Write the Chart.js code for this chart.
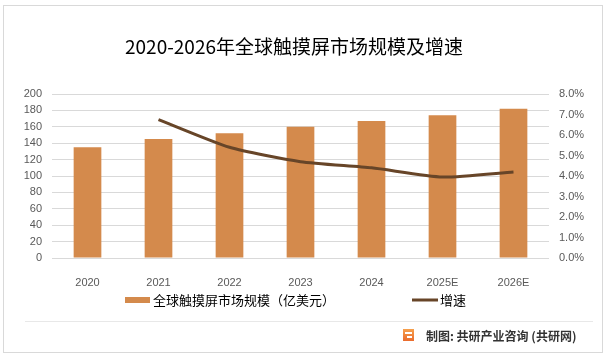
<!DOCTYPE html>
<html>
<head>
<meta charset="utf-8">
<script src="https://cdn.jsdelivr.net/npm/chart.js@4.4.0/dist/chart.umd.min.js"></script>
<style>
  body { margin: 0; background: #fff; }
  #wrap { width: 608px; height: 358px; }
</style>
</head>
<body>
<div id="wrap"><canvas id="myChart" width="608" height="358"></canvas></div>
<script>
const categories = ["2020", "2021", "2022", "2023", "2024", "2025E", "2026E"];
const marketSize = [135, 145, 152, 160, 167, 174, 182];
const growthRate = [null, 6.75, 5.4, 4.7, 4.4, 3.95, 4.2];
const leftTicks = [0, 20, 40, 60, 80, 100, 120, 140, 160, 180, 200];
const rightTicks = [0, 1, 2, 3, 4, 5, 6, 7, 8];

const titleText = "2020-2026年全球触摸屏市场规模及增速";
const sizeLabel = "全球触摸屏市场规模（亿美元）";
const rateLabel = "增速";
const footerText = "制图: 共研产业咨询 (共研网)";

const barColor = "#D48A4C";
const lineColor = "#674528";
const tickColor = "#595959";
const gridColor = "#D9D9D9";
const tickFont = { family: "'Liberation Sans', Arial, sans-serif", size: 11 };

// frame, title, legend and footer
const decorations = {
  id: "decorations",
  beforeDraw(chart) {
    const ctx = chart.ctx;
    ctx.save();
    ctx.fillStyle = "#fff";
    ctx.fillRect(0, 0, chart.width, chart.height);
    ctx.restore();
  },
  afterDraw(chart) {
    const ctx = chart.ctx;
    ctx.save();
    ctx.strokeStyle = "#D9D9D9";
    ctx.lineWidth = 1;
    ctx.strokeRect(3.5, 5.5, 599, 347);

    ctx.strokeStyle = "#E8E8E8";
    ctx.beginPath();
    ctx.moveTo(25, 321.5);
    ctx.lineTo(593, 321.5);
    ctx.stroke();

    ctx.fillStyle = "#000";
    ctx.font = "19px 'Noto Sans CJK SC', sans-serif";
    ctx.textAlign = "center";
    ctx.textBaseline = "middle";
    ctx.fillText(titleText, 294, 47);

    // legend
    ctx.font = "13px 'Noto Sans CJK SC', sans-serif";
    ctx.textAlign = "left";
    ctx.fillStyle = barColor;
    ctx.fillRect(125, 297, 25, 6);
    ctx.fillStyle = "#000";
    ctx.fillText(sizeLabel, 153, 300);
    ctx.strokeStyle = lineColor;
    ctx.lineWidth = 3;
    ctx.beginPath();
    ctx.moveTo(412, 300);
    ctx.lineTo(438, 300);
    ctx.stroke();
    ctx.fillText(rateLabel, 440, 300);

    // footer logo + text
    const g = ctx.createLinearGradient(403, 329, 403, 342);
    g.addColorStop(0, "#F6A04D");
    g.addColorStop(1, "#E9672B");
    ctx.fillStyle = g;
    ctx.fillRect(403, 329, 11, 12);
    ctx.fillStyle = "#fff";
    ctx.fillRect(405, 332, 7, 2);
    ctx.fillRect(407, 336, 5, 2);
    ctx.fillStyle = "#333";
    ctx.font = "bold 12px 'Noto Sans CJK SC', sans-serif";
    ctx.fillText(footerText, 426, 336);
    ctx.restore();
  }
};

const ctx = document.getElementById("myChart").getContext("2d");
new Chart(ctx, {
  data: {
    labels: categories,
    datasets: [
      {
        type: "line",
        label: rateLabel,
        data: growthRate,
        yAxisID: "y1",
        borderColor: lineColor,
        borderWidth: 3,
        pointRadius: 0,
        tension: 0.2,
        fill: false,
        order: 0
      },
      {
        type: "bar",
        label: sizeLabel,
        data: marketSize,
        yAxisID: "y",
        backgroundColor: barColor,
        categoryPercentage: 1,
        barPercentage: 0.39,
        order: 1
      }
    ]
  },
  options: {
    responsive: false,
    animation: false,
    layout: { padding: { top: 94, left: 0, right: 0, bottom: 0 } },
    plugins: {
      legend: { display: false },
      title: { display: false },
      tooltip: { enabled: false }
    },
    scales: {
      x: {
        grid: { display: false },
        border: { display: false },
        ticks: { color: tickColor, font: tickFont, padding: 10, maxRotation: 0 },
        afterFit(scale) { scale.height = 100; }
      },
      y: {
        position: "left",
        min: 0,
        max: 200,
        afterBuildTicks(scale) { scale.ticks = leftTicks.map(v => ({ value: v })); },
        grid: { color: gridColor, drawTicks: false },
        border: { display: false },
        ticks: { color: tickColor, font: tickFont, padding: 10 },
        afterFit(scale) { scale.width = 52; }
      },
      y1: {
        position: "right",
        min: 0,
        max: 8,
        afterBuildTicks(scale) { scale.ticks = rightTicks.map(v => ({ value: v })); },
        grid: { display: false, drawTicks: false },
        border: { display: false },
        ticks: {
          color: tickColor, font: tickFont, padding: 10,
          callback: v => v.toFixed(1) + "%"
        },
        afterFit(scale) { scale.width = 59; }
      }
    }
  },
  plugins: [decorations]
});
</script>
</body>
</html>
